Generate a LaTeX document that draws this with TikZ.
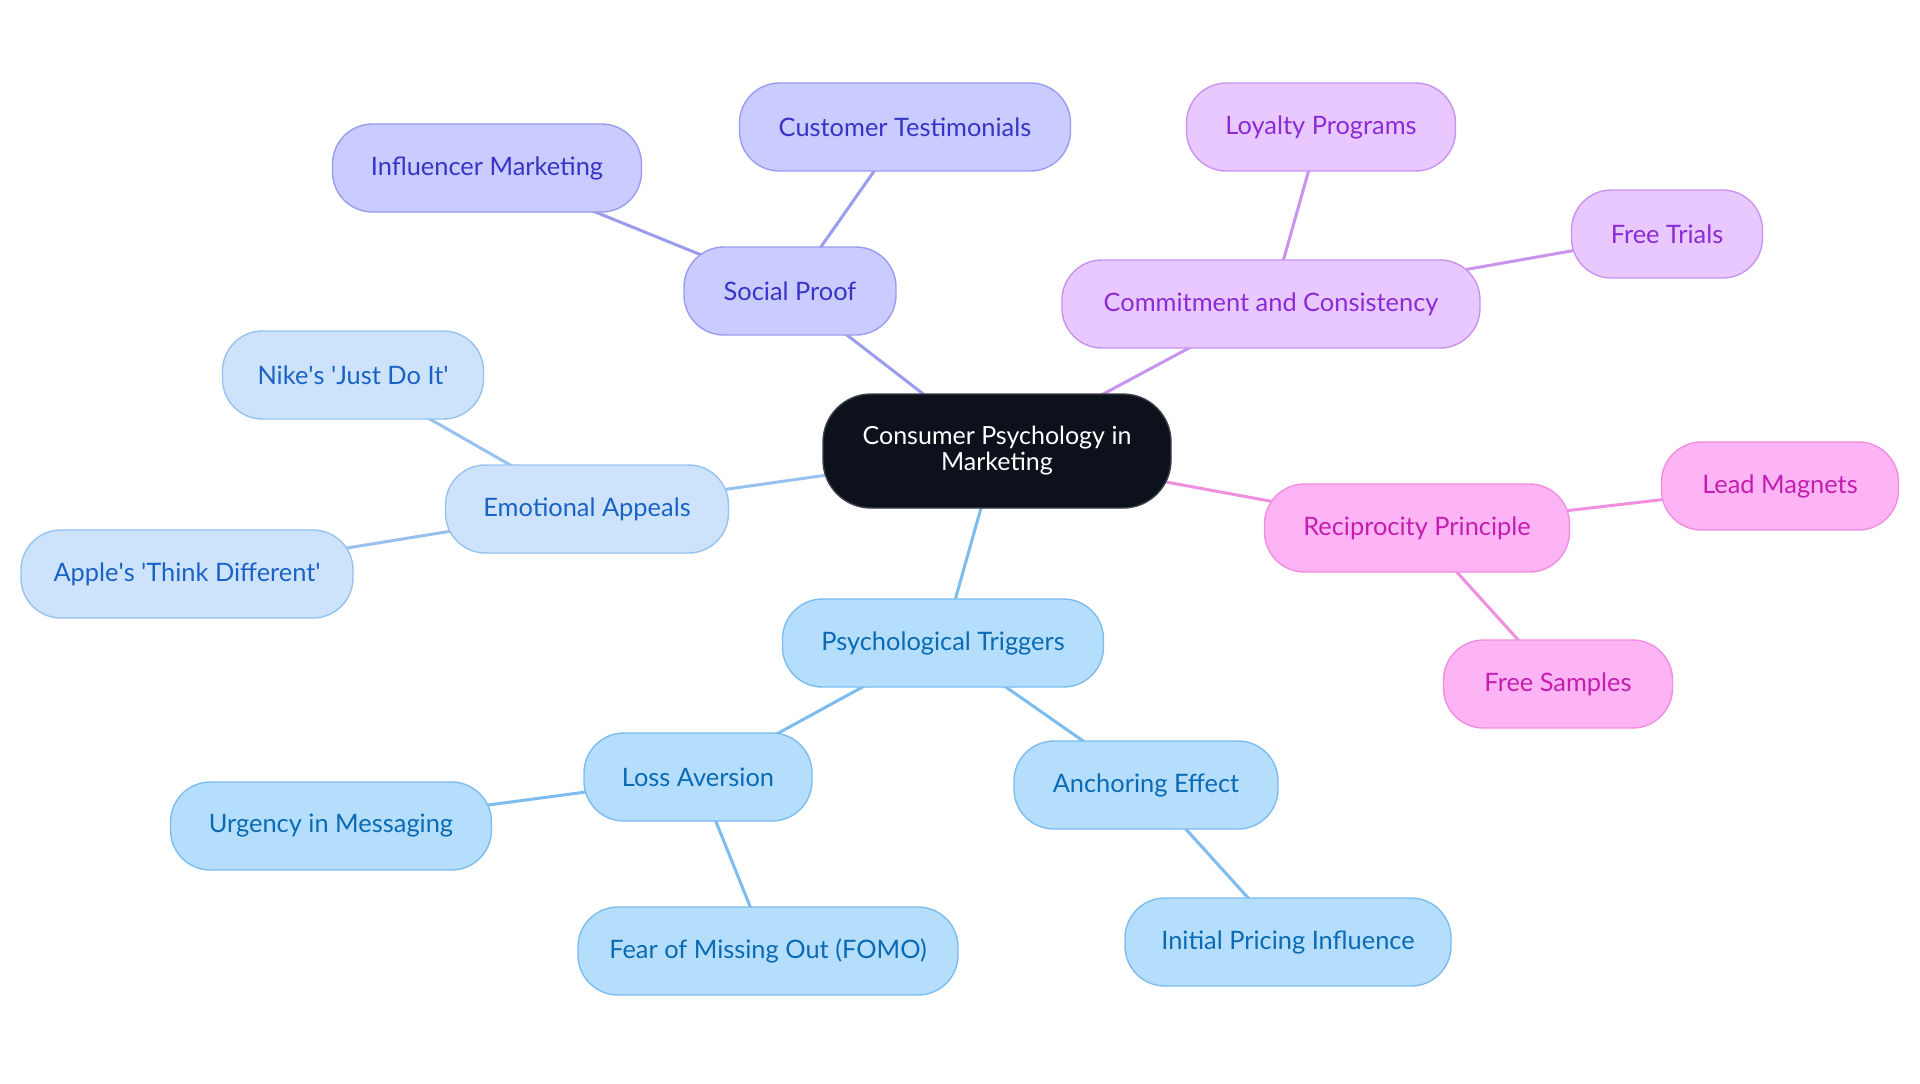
\documentclass[tikz,border=0pt]{standalone}
\usepackage{fontspec}
\setmainfont{Lato}
\usetikzlibrary{backgrounds}
\definecolor{spF}{HTML}{CACBFE}\definecolor{spD}{HTML}{9B9CF0}\definecolor{spT}{HTML}{3934C6}
\definecolor{ccF}{HTML}{E8C8FE}\definecolor{ccD}{HTML}{C993F0}\definecolor{ccT}{HTML}{8A2BD6}
\definecolor{rpF}{HTML}{FCB4F4}\definecolor{rpD}{HTML}{F08EE0}\definecolor{rpT}{HTML}{C41DB0}
\definecolor{eaF}{HTML}{CDE3FB}\definecolor{eaD}{HTML}{97C2F0}\definecolor{eaT}{HTML}{1A62C6}
\definecolor{ptF}{HTML}{B4DEFC}\definecolor{ptD}{HTML}{7DBCEF}\definecolor{ptT}{HTML}{0B6AB4}
\definecolor{cnF}{HTML}{0C111B}\definecolor{cnD}{HTML}{3C4048}
\tikzset{
  mm/.style={rectangle, rounded corners=20pt, line width=0.7pt, minimum height=44pt,
    inner sep=0pt, align=center, font=\fontsize{12.7}{14}\selectfont},
  sp/.style={mm, fill=spF, draw=spD, text=spT},
  cc/.style={mm, fill=ccF, draw=ccD, text=ccT},
  rp/.style={mm, fill=rpF, draw=rpD, text=rpT},
  ea/.style={mm, fill=eaF, draw=eaD, text=eaT},
  pt/.style={mm, fill=ptF, draw=ptD, text=ptT},
  cn/.style={mm, fill=cnF, draw=cnD, text=white, rounded corners=24pt, minimum height=57pt, font=\fontsize{12.5}{13}\selectfont},
  w/.style={minimum width=#1*0.5pt},
  edge/.style={line width=1.5pt, line cap=round},
}
\newcommand{\q}{\textquotesingle}
\begin{document}
\begin{tikzpicture}[x=0.5pt,y=-0.5pt]
\useasboundingbox (0,0) rectangle (1920,1083);
\node[cn, w=348] (root) at (997,451) {Consumer Psychology in\\Marketing};
\node[sp, w=212] (sp) at (790,291) {Social Proof};
\node[sp, w=331] (ct) at (905,127) {Customer Testimonials};
\node[sp, w=309] (im) at (487,168) {Influencer Marketing};
\node[cc, w=418] (cc) at (1271,304) {Commitment and Consistency};
\node[cc, w=269] (lp) at (1321,127) {Loyalty Programs};
\node[cc, w=191] (ft) at (1667,234) {Free Trials};
\node[rp, w=305] (rp) at (1417,528) {Reciprocity Principle};
\node[rp, w=237] (lm) at (1780,486) {Lead Magnets};
\node[rp, w=229] (fs) at (1558,684) {Free Samples};
\node[ea, w=283] (ea) at (587,509) {Emotional Appeals};
\node[ea, w=261] (nk) at (353,375) {Nike\q s \q Just Do It\q};
\node[ea, w=332] (ap) at (187,574) {Apple\q s \q Think Different\q};
\node[pt, w=321] (pt) at (943,643) {Psychological Triggers};
\node[pt, w=228] (la) at (698,777) {Loss Aversion};
\node[pt, w=321] (um) at (331,826) {Urgency in Messaging};
\node[pt, w=380] (fo) at (768,951) {Fear of Missing Out (FOMO)};
\node[pt, w=264] (ae) at (1146,785) {Anchoring Effect};
\node[pt, w=326] (ip) at (1288,942) {Initial Pricing Influence};
\begin{scope}[on background layer]
\fill[white] (0,0) rectangle (1920,1083);
\draw[edge, draw=spD] (root.center) -- (sp.center);
\draw[edge, draw=spD] (sp.center) -- (ct.center);
\draw[edge, draw=spD] (sp.center) -- (im.center);
\draw[edge, draw=ccD] (root.center) -- (cc.center);
\draw[edge, draw=ccD] (cc.center) -- (lp.center);
\draw[edge, draw=ccD] (cc.center) -- (ft.center);
\draw[edge, draw=rpD] (root.center) -- (rp.center);
\draw[edge, draw=rpD] (rp.center) -- (lm.center);
\draw[edge, draw=rpD] (rp.center) -- (fs.center);
\draw[edge, draw=eaD] (root.center) -- (ea.center);
\draw[edge, draw=eaD] (ea.center) -- (nk.center);
\draw[edge, draw=eaD] (ea.center) -- (ap.center);
\draw[edge, draw=ptD] (root.center) -- (pt.center);
\draw[edge, draw=ptD] (pt.center) -- (la.center);
\draw[edge, draw=ptD] (la.center) -- (um.center);
\draw[edge, draw=ptD] (la.center) -- (fo.center);
\draw[edge, draw=ptD] (pt.center) -- (ae.center);
\draw[edge, draw=ptD] (ae.center) -- (ip.center);
\end{scope}
\end{tikzpicture}
\end{document}
